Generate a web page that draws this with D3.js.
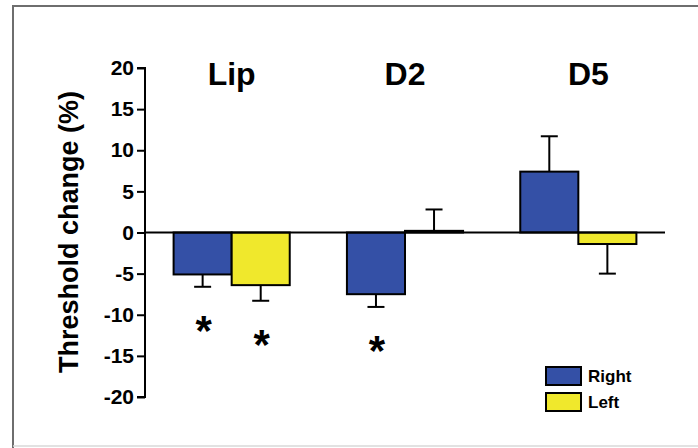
<!DOCTYPE html>
<html>
<head>
<meta charset="utf-8">
<script src="https://cdn.jsdelivr.net/npm/d3@7"></script>
<style>
  html, body { margin: 0; padding: 0; background: #fff; }
  svg { display: block; }
  text { font-family: "Liberation Sans", Arial, Helvetica, sans-serif; font-weight: bold; }
</style>
</head>
<body>
<svg id="chart" width="698" height="448"></svg>
<script>
// ---- data ----
const categories = ["Lip", "D2", "D5"];
const seriesNames = ["Right", "Left"];
const rightValues = [-5.1, -7.5, 7.4];
const leftValues = [-6.4, 0.2, -1.4];
const rightErrors = [1.5, 1.55, 4.3];
const leftErrors = [1.9, 2.6, 3.6];
const rightSignificant = [true, true, false];
const leftSignificant = [true, false, false];
const yTicks = [20, 15, 10, 5, 0, -5, -10, -15, -20];
const yLabel = "Threshold change (%)";

const colors = { Right: "#3450a6", Left: "#f0e82c" };

const svg = d3.select("#chart");

// frame
svg.append("path")
  .attr("d", "M13,448 L13,6 L700,6")
  .attr("fill", "none").attr("stroke", "#6e6e6e").attr("stroke-width", 2);
svg.append("line")
  .attr("x1", 13).attr("x2", 700).attr("y1", 446).attr("y2", 446)
  .attr("stroke", "#d8d8d8").attr("stroke-width", 1.5);

const y = d3.scaleLinear().domain([-20, 20]).range([397, 68]);
const x0 = d3.scaleBand().domain(categories).range([145, 665])
  .paddingInner(0.33).paddingOuter(0.165);
const x1 = d3.scaleBand().domain(seriesNames).range([0, x0.bandwidth()]).padding(0);

// rows
const rows = [];
categories.forEach((c, i) => {
  rows.push({ cat: c, series: "Right", value: rightValues[i], err: rightErrors[i], sig: rightSignificant[i] });
  rows.push({ cat: c, series: "Left", value: leftValues[i], err: leftErrors[i], sig: leftSignificant[i] });
});

const g = svg.append("g");

// error bars (one-sided, away from zero)
const capW = 17;
rows.forEach(d => {
  const cx = x0(d.cat) + x1(d.series) + x1.bandwidth() / 2;
  const end = d.value >= 0 ? d.value + d.err : d.value - d.err;
  g.append("line")
    .attr("x1", cx).attr("x2", cx)
    .attr("y1", y(d.value)).attr("y2", y(end))
    .attr("stroke", "#000").attr("stroke-width", 2);
  g.append("line")
    .attr("x1", cx - capW / 2).attr("x2", cx + capW / 2)
    .attr("y1", y(end)).attr("y2", y(end))
    .attr("stroke", "#000").attr("stroke-width", 2);
  d.cx = cx; d.end = end;
});

// bars
g.selectAll("rect.bar").data(rows).enter().append("rect")
  .attr("class", "bar")
  .attr("x", d => x0(d.cat) + x1(d.series))
  .attr("width", x1.bandwidth())
  .attr("y", d => y(Math.max(0, d.value)))
  .attr("height", d => Math.abs(y(d.value) - y(0)))
  .attr("fill", d => colors[d.series])
  .attr("stroke", "#000").attr("stroke-width", 2);

// zero line
svg.append("line")
  .attr("x1", 145).attr("x2", 665)
  .attr("y1", y(0)).attr("y2", y(0))
  .attr("stroke", "#000").attr("stroke-width", 2);

// significance asterisks
g.selectAll("text.sig").data(rows.filter(d => d.sig)).enter().append("text")
  .attr("class", "sig")
  .attr("x", d => d.cx + 1)
  .attr("y", d => y(d.end) + 34 + 24)
  .attr("text-anchor", "middle")
  .attr("font-size", 42)
  .text("*");

// y axis
const yAxis = d3.axisLeft(y).tickValues(yTicks).tickSize(8).tickPadding(3).tickFormat(d => String(d));
const ax = svg.append("g").attr("transform", "translate(145,0)").call(yAxis);
ax.select(".domain").attr("stroke", "#000").attr("stroke-width", 2)
  .attr("d", `M-8,${y(20)}H0V${y(-20)}H-8`);
ax.selectAll(".tick line").attr("stroke", "#000").attr("stroke-width", 2);
ax.selectAll(".tick text")
  .attr("font-size", 21).attr("fill", "#000")
  .style("font-family", "'Liberation Sans', Arial, sans-serif").style("font-weight", "bold");

// y label
svg.append("text")
  .attr("transform", `translate(78,${232}) rotate(-90)`)
  .attr("text-anchor", "middle")
  .attr("font-size", 27)
  .text(yLabel);

// category labels
svg.selectAll("text.cat").data(categories).enter().append("text")
  .attr("class", "cat")
  .attr("x", d => x0(d) + x0.bandwidth() / 2 + (d === "D5" ? 10 : 0))
  .attr("y", 85)
  .attr("text-anchor", "middle")
  .attr("font-size", 32)
  .text(d => d);

// legend
const lg = svg.append("g").attr("transform", "translate(546,367)");
seriesNames.forEach((s, i) => {
  lg.append("rect")
    .attr("x", 0).attr("y", i * 26)
    .attr("width", 35).attr("height", 18)
    .attr("fill", colors[s]).attr("stroke", "#000").attr("stroke-width", 2);
  lg.append("text")
    .attr("x", 42).attr("y", i * 26 + 15)
    .attr("font-size", 17)
    .text(s);
});
</script>
</body>
</html>
